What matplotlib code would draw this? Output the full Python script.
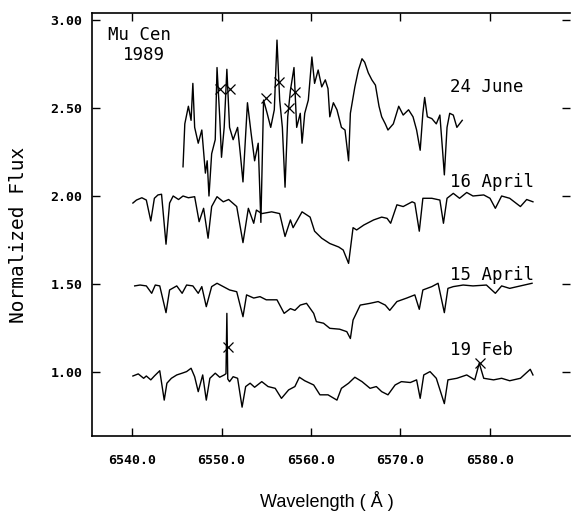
import matplotlib
matplotlib.use("Agg")
import matplotlib.pyplot as plt

# Mu Cen H-alpha region, four epochs in 1989 (wavelength in Angstrom, normalized flux)
feb_wl = [6540.1, 6540.7, 6541.3, 6541.6, 6542.1, 6542.5, 6543.1, 6543.6, 6543.9, 6544.4,
          6545.0, 6545.6, 6546.1, 6546.6, 6547.0, 6547.4, 6547.9, 6548.3, 6548.7, 6549.3,
          6549.8, 6550.3, 6550.5, 6550.6, 6550.7, 6550.9, 6551.3, 6551.8, 6552.3, 6552.7,
          6553.2, 6553.7, 6554.5, 6555.2, 6556.0, 6556.7, 6557.5, 6558.2, 6558.7, 6559.3,
          6560.3, 6561.0, 6561.9, 6562.9, 6563.4, 6564.2, 6564.9, 6565.7, 6566.6, 6567.3,
          6567.9, 6568.6, 6569.4, 6570.1, 6571.1, 6571.8, 6572.2, 6572.6, 6573.3, 6574.0,
          6574.9, 6575.3, 6576.3, 6577.4, 6578.3, 6578.8, 6579.3, 6580.4, 6581.3, 6582.2,
          6583.4, 6584.5, 6584.8]
feb_flux = [0.977, 0.989, 0.964, 0.977, 0.955, 0.977, 1.007, 0.840, 0.936, 0.964,
            0.983, 0.993, 1.002, 1.021, 0.973, 0.888, 0.983, 0.840, 0.964, 0.993,
            0.970, 0.983, 0.990, 1.333, 0.960, 0.945, 0.973, 0.964, 0.800, 0.917,
            0.936, 0.913, 0.945, 0.917, 0.907, 0.850, 0.898, 0.917, 0.970, 0.950,
            0.926, 0.870, 0.870, 0.840, 0.907, 0.936, 0.970, 0.945, 0.907, 0.917,
            0.888, 0.870, 0.926, 0.945, 0.940, 0.955, 0.850, 0.983, 1.002, 0.964,
            0.820, 0.955, 0.964, 0.983, 0.955, 1.050, 0.964, 0.955, 0.964, 0.950,
            0.964, 1.015, 0.983]

apr15_wl = [6540.3, 6540.9, 6541.6, 6542.2, 6542.6, 6543.1, 6543.8, 6544.2, 6545.0, 6545.6,
            6546.1, 6546.8, 6547.4, 6547.8, 6548.3, 6548.9, 6549.5, 6550.2, 6550.9, 6551.7,
            6552.4, 6552.8, 6553.6, 6554.3, 6555.0, 6556.2, 6557.0, 6557.7, 6558.2, 6558.8,
            6559.5, 6560.3, 6560.6, 6561.4, 6562.1, 6563.2, 6564.0, 6564.4, 6564.7, 6565.5,
            6566.6, 6567.5, 6568.3, 6568.8, 6569.6, 6570.7, 6571.6, 6572.1, 6572.5, 6573.5,
            6574.2, 6574.9, 6575.3, 6575.9, 6577.0, 6578.1, 6579.6, 6580.6, 6581.3, 6582.2,
            6583.4, 6584.7]
apr15_flux = [1.489, 1.494, 1.489, 1.447, 1.494, 1.489, 1.337, 1.466, 1.489, 1.447,
              1.494, 1.489, 1.447, 1.485, 1.371, 1.485, 1.504, 1.485, 1.466, 1.456,
              1.314, 1.438, 1.420, 1.428, 1.410, 1.410, 1.333, 1.360, 1.350, 1.380,
              1.390, 1.333, 1.286, 1.277, 1.248, 1.243, 1.229, 1.190, 1.295, 1.380,
              1.390, 1.400, 1.380, 1.350, 1.400, 1.420, 1.438, 1.356, 1.466, 1.485,
              1.504, 1.337, 1.475, 1.485, 1.494, 1.489, 1.494, 1.447, 1.489, 1.475,
              1.489, 1.504]

apr16_wl = [6540.1, 6540.5, 6541.1, 6541.6, 6542.1, 6542.5, 6542.9, 6543.3, 6543.8, 6544.2,
            6544.6, 6545.2, 6545.7, 6546.3, 6547.0, 6547.5, 6548.0, 6548.5, 6548.9, 6549.5,
            6550.2, 6550.8, 6551.7, 6552.4, 6553.0, 6553.6, 6553.9, 6554.5, 6555.6, 6556.5,
            6557.1, 6557.7, 6558.0, 6559.0, 6559.9, 6560.4, 6561.2, 6562.1, 6563.1, 6563.6,
            6564.2, 6564.7, 6565.1, 6565.9, 6567.0, 6567.9, 6568.5, 6568.9, 6569.6, 6570.3,
            6571.3, 6571.6, 6572.1, 6572.5, 6573.5, 6574.4, 6574.8, 6575.2, 6575.9, 6576.6,
            6577.4, 6578.1, 6579.3, 6580.0, 6580.6, 6581.3, 6582.2, 6583.4, 6584.1, 6584.8]
apr16_flux = [1.960, 1.977, 1.990, 1.977, 1.858, 1.987, 2.006, 2.010, 1.726, 1.960,
              2.000, 1.980, 2.000, 1.990, 1.996, 1.854, 1.930, 1.760, 1.940, 1.996,
              1.967, 1.980, 1.940, 1.735, 1.930, 1.845, 1.920, 1.900, 1.910, 1.900,
              1.770, 1.864, 1.820, 1.910, 1.880, 1.800, 1.760, 1.730, 1.710, 1.693,
              1.617, 1.820, 1.807, 1.835, 1.864, 1.880, 1.873, 1.845, 1.950, 1.940,
              1.967, 1.960, 1.800, 1.987, 1.987, 1.977, 1.845, 1.987, 2.015, 1.987,
              2.020, 2.000, 2.006, 1.987, 1.930, 2.000, 1.987, 1.940, 1.980, 1.967]

jun_wl = [6545.7, 6545.9, 6546.3, 6546.6, 6546.8, 6547.0, 6547.4, 6547.8, 6548.2, 6548.4,
          6548.6, 6548.9, 6549.3, 6549.5, 6549.8, 6550.0, 6550.3, 6550.6, 6550.9, 6551.3,
          6551.8, 6552.1, 6552.4, 6552.9, 6553.3, 6553.7, 6554.1, 6554.4, 6554.7, 6555.1,
          6555.5, 6555.9, 6556.2, 6556.5, 6556.8, 6557.1, 6557.4, 6557.7, 6558.1, 6558.4,
          6558.8, 6559.0, 6559.3, 6559.7, 6560.1, 6560.4, 6560.8, 6561.2, 6561.6, 6561.9,
          6562.1, 6562.5, 6562.9, 6563.4, 6563.8, 6564.2, 6564.4, 6564.9, 6565.3, 6565.7,
          6566.0, 6566.4, 6566.8, 6567.2, 6567.6, 6567.9, 6568.3, 6568.6, 6569.2, 6569.8,
          6570.3, 6570.9, 6571.4, 6571.8, 6572.2, 6572.5, 6572.7, 6573.0, 6573.5, 6574.0,
          6574.4, 6574.7, 6574.9, 6575.2, 6575.5, 6575.9, 6576.3, 6576.6, 6576.9]
jun_flux = [2.166, 2.410, 2.510, 2.430, 2.640, 2.390, 2.300, 2.375, 2.130, 2.200,
            2.000, 2.240, 2.320, 2.730, 2.450, 2.220, 2.390, 2.720, 2.390, 2.320,
            2.390, 2.240, 2.080, 2.530, 2.360, 2.200, 2.300, 1.850, 2.545, 2.470,
            2.390, 2.490, 2.886, 2.545, 2.390, 2.050, 2.450, 2.600, 2.730, 2.390,
            2.470, 2.300, 2.470, 2.545, 2.790, 2.640, 2.716, 2.620, 2.660, 2.610,
            2.450, 2.530, 2.490, 2.390, 2.375, 2.200, 2.470, 2.620, 2.716, 2.780,
            2.760, 2.700, 2.660, 2.630, 2.510, 2.450, 2.410, 2.375, 2.410, 2.510,
            2.460, 2.490, 2.450, 2.375, 2.260, 2.470, 2.560, 2.450, 2.440, 2.410,
            2.460, 2.260, 2.120, 2.390, 2.470, 2.460, 2.390, 2.410, 2.430]

# cosmic-ray hits flagged with crosses
jun_hit_wl = [6549.8, 6550.9, 6555.0, 6556.4, 6557.5, 6558.2]
jun_hit_flux = [2.61, 2.61, 2.555, 2.65, 2.50, 2.59]
feb_hit_wl = [6550.7, 6578.9]
feb_hit_flux = [1.14, 1.05]

labels = ["24 June", "16 April", "15 April", "19 Feb"]
label_y = [2.59, 2.05, 1.52, 1.097]

fig = plt.figure(figsize=(5.71, 5.12), dpi=100)
ax = fig.add_axes([92/571, 76/512, 478/571, 423/512])

for wl, fl in [(feb_wl, feb_flux), (apr15_wl, apr15_flux),
               (apr16_wl, apr16_flux), (jun_wl, jun_flux)]:
    ax.plot(wl, fl, color="black", linewidth=1.0)

ax.plot(jun_hit_wl, jun_hit_flux, "x", color="black", markersize=7, markeredgewidth=0.9)
ax.plot(feb_hit_wl, feb_hit_flux, "x", color="black", markersize=7, markeredgewidth=0.9)

mono = "DejaVu Sans Mono"
for txt, yv in zip(labels, label_y):
    ax.text(6575.5, yv, txt, family=mono, fontsize=12.5, va="baseline", ha="left")
ax.text(6537.3, 2.886, "Mu Cen", family=mono, fontsize=12.5, va="baseline")
ax.text(6539.0, 2.773, "1989", family=mono, fontsize=12.5, va="baseline")

ax.set_xlim(6535.53, 6588.94)
ax.set_ylim(0.636, 3.04)
ax.set_xticks([6540, 6550, 6560, 6570, 6580])
ax.set_xticklabels(["6540.0", "6550.0", "6560.0", "6570.0", "6580.0"])
ax.set_yticks([1.0, 1.5, 2.0, 2.5, 3.0])
ax.set_yticklabels(["1.00", "1.50", "2.00", "2.50", "3.00"])
for lab in ax.get_xticklabels() + ax.get_yticklabels():
    lab.set_family(mono)
    lab.set_fontweight("bold")
    lab.set_fontsize(9.5)

ax.tick_params(axis="both", direction="in", length=6, width=1.0, top=True, right=True)
ax.tick_params(axis="x", pad=13)
ax.tick_params(axis="y", pad=7)
ax.spines["right"].set_visible(False)
for s in ["left", "bottom", "top"]:
    ax.spines[s].set_linewidth(1.2)

fig.text(19/571, 1 - 235/512, "Normalized Flux", family=mono, fontsize=14,
         rotation=90, ha="center", va="center")
fig.text(327/571, 1 - 501/512, "Wavelength ( \u00c5 )", family="Liberation Sans",
         fontsize=13, ha="center", va="center")

fig.savefig("out.png", dpi=100)
